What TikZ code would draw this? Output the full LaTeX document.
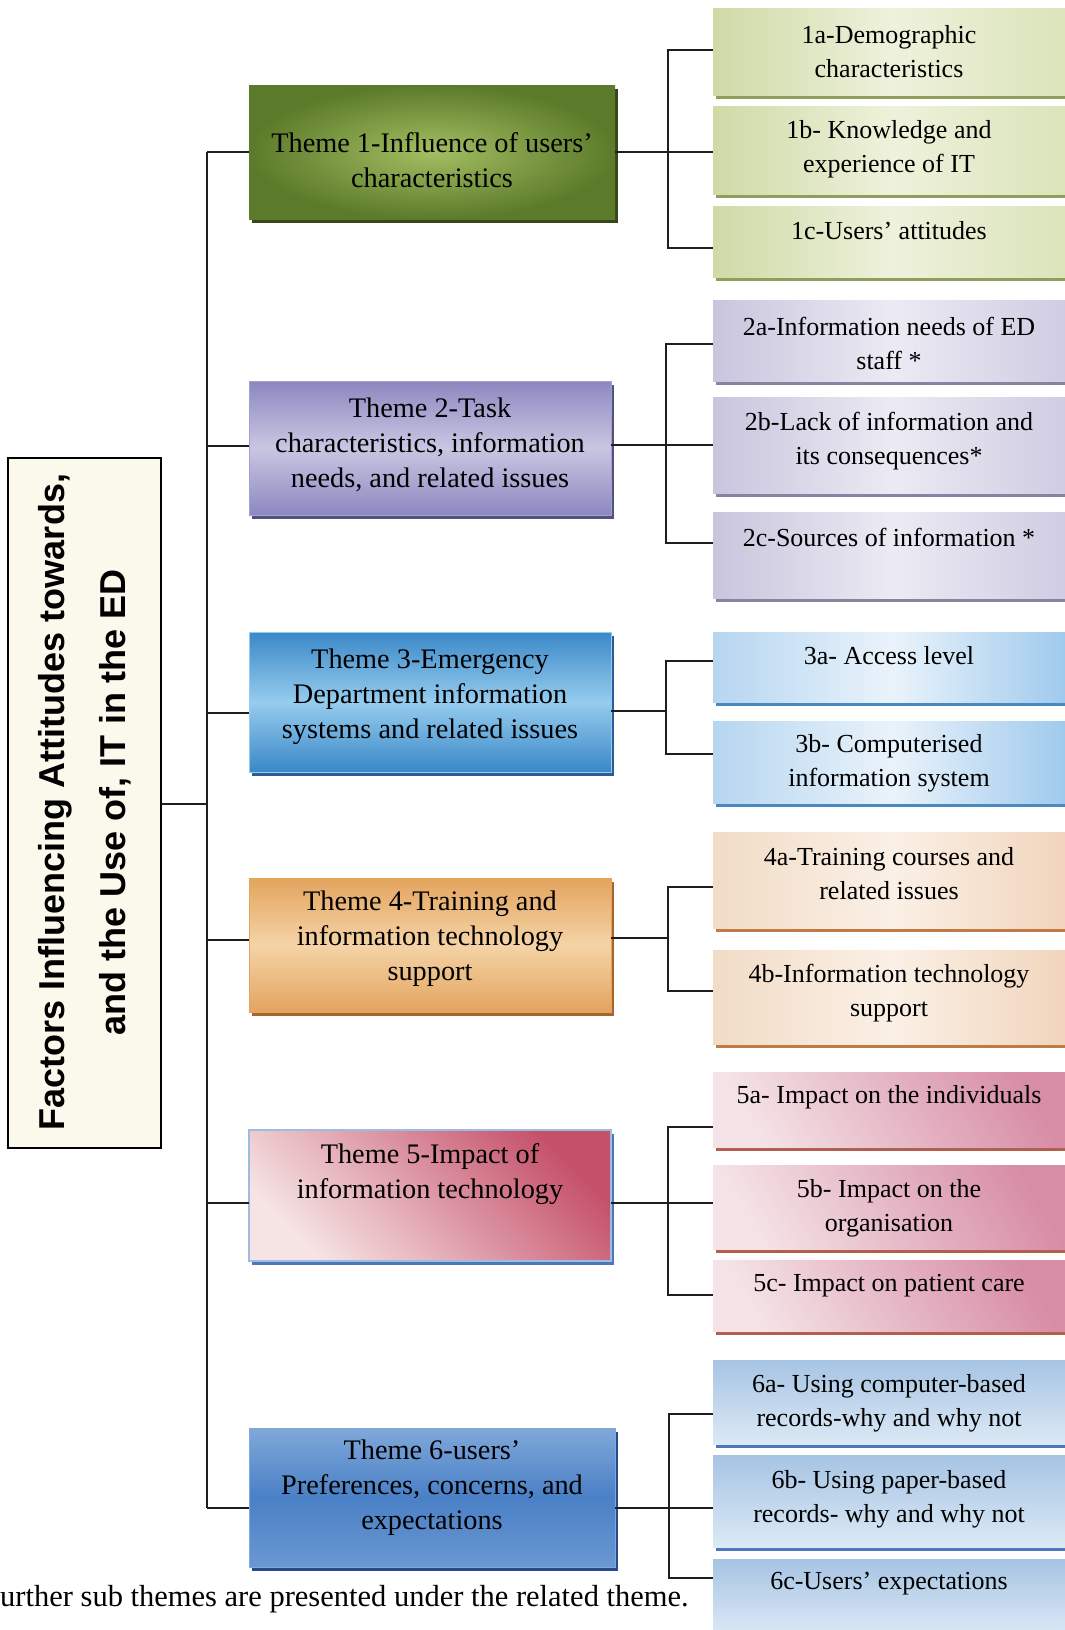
\documentclass[tikz,border=0pt]{standalone}
\usepackage{fontspec}
\setmainfont{Liberation Serif}
\newfontfamily\headsans{Liberation Sans}
\usetikzlibrary{shadows}

% theme colours
\definecolor{tOneIn}{HTML}{A3BE62}
\definecolor{tOneOut}{HTML}{5C7B2A}
\definecolor{tOneSh}{HTML}{36471A}
\definecolor{tTwoEdge}{HTML}{8C88C0}
\definecolor{tTwoMid}{HTML}{C9C6E3}
\definecolor{tTwoSh}{HTML}{55517E}
\definecolor{tThreeEdge}{HTML}{3A88C8}
\definecolor{tThreeMid}{HTML}{96CCEE}
\definecolor{tThreeSh}{HTML}{2A5C98}
\definecolor{tFourEdge}{HTML}{E3A45E}
\definecolor{tFourMid}{HTML}{F5D3A6}
\definecolor{tFourSh}{HTML}{A8652C}
\definecolor{tFiveLight}{HTML}{F6E4E4}
\definecolor{tFiveDark}{HTML}{C5506A}
\definecolor{tFiveLine}{HTML}{9CBCE0}
\definecolor{tFiveSh}{HTML}{4A78B8}
\definecolor{tSixTop}{HTML}{80A8DA}
\definecolor{tSixMid}{HTML}{4A80C6}
\definecolor{tSixBot}{HTML}{6A98D2}
\definecolor{tSixSh}{HTML}{284A88}
% sub-theme colours
\definecolor{sOneA}{HTML}{CFDAA6}
\definecolor{sOneB}{HTML}{EEF2DC}
\definecolor{sOneC}{HTML}{DAE3B8}
\definecolor{sOneSh}{HTML}{8E9E5C}
\definecolor{sTwoA}{HTML}{C9C5DE}
\definecolor{sTwoB}{HTML}{ECEAF3}
\definecolor{sTwoC}{HTML}{CFCBE2}
\definecolor{sTwoSh}{HTML}{88849F}
\definecolor{sThreeA}{HTML}{B6D6F0}
\definecolor{sThreeB}{HTML}{EAF3FB}
\definecolor{sThreeC}{HTML}{9CC8EC}
\definecolor{sThreeSh}{HTML}{4A88C0}
\definecolor{sFourA}{HTML}{F1DCC6}
\definecolor{sFourB}{HTML}{FBF0E6}
\definecolor{sFourC}{HTML}{F0D4BA}
\definecolor{sFourSh}{HTML}{C27A44}
\definecolor{sFiveA}{HTML}{F4E2E6}
\definecolor{sFiveC}{HTML}{D78DA6}
\definecolor{sFiveSh}{HTML}{B45E50}
\definecolor{sSixA}{HTML}{A6C4E4}
\definecolor{sSixB}{HTML}{DCE9F5}
\definecolor{sSixSh}{HTML}{4A78B8}
\definecolor{titleFill}{HTML}{FBF9EC}
\definecolor{inkLine}{HTML}{1E1E1E}

\tikzset{
  box/.style={rectangle, inner sep=0pt, outer sep=0pt, anchor=north west},
  themebox/.style={box, minimum width=362, minimum height=134},
  subbox/.style={box, minimum width=360},
  themetext/.style={align=center, inner sep=0pt, font=\fontsize{28.3}{35}\selectfont},
  subtext/.style={align=center, inner sep=0pt, font=\fontsize{26}{34}\selectfont},
  conn/.style={draw=inkLine, line width=1.8pt},
  shadowof/.style={drop shadow={shadow xshift=3pt, shadow yshift=-4pt, fill=#1, opacity=1}},
  % theme fills (middle colour always given last)
  thOne/.style={shadowof=tOneSh, inner color=tOneIn, outer color=tOneOut},
  thTwo/.style={shadowof=tTwoSh, top color=tTwoEdge, bottom color=tTwoEdge, middle color=tTwoMid, draw=tTwoEdge!80, line width=0.8pt},
  thThree/.style={shadowof=tThreeSh, top color=tThreeEdge, bottom color=tThreeEdge, middle color=tThreeMid, draw=tThreeMid, line width=0.8pt},
  thFour/.style={shadowof=tFourSh, top color=tFourEdge, bottom color=tFourEdge, middle color=tFourMid, draw=tFourEdge, line width=0.8pt},
  thFive/.style={shadowof=tFiveSh, left color=tFiveLight, right color=tFiveDark, shading angle=135, draw=tFiveLine, line width=1.2pt},
  thSix/.style={shadowof=tSixSh, top color=tSixTop, bottom color=tSixBot, middle color=tSixMid, draw=tSixTop, line width=0.8pt},
  % sub-theme fills
  suOne/.style={subbox, shadowof=sOneSh, left color=sOneA, right color=sOneC, middle color=sOneB},
  suTwo/.style={subbox, shadowof=sTwoSh, left color=sTwoA, right color=sTwoC, middle color=sTwoB},
  suThree/.style={subbox, shadowof=sThreeSh, left color=sThreeA, right color=sThreeC, middle color=sThreeB},
  suFour/.style={subbox, shadowof=sFourSh, left color=sFourA, right color=sFourC, middle color=sFourB},
  suFive/.style={subbox, shadowof=sFiveSh, left color=sFiveA, right color=sFiveC, shading angle=120},
  suSix/.style={subbox, shadowof=sSixSh, top color=sSixA, bottom color=sSixB},
}

\begin{document}
\begin{tikzpicture}[x=1pt, y=-1pt]
\useasboundingbox (0,0) rectangle (1065,1630);
\clip (0,0) rectangle (1065,1630);
\fill[white] (0,0) rectangle (1065,1630);

% ---------- title bar ----------
\node[box, draw=black, line width=1.8pt, fill=titleFill,
      minimum width=153, minimum height=690] (title) at (8,458) {};
\node[rotate=90, align=center, inner sep=0pt,
      font=\headsans\bfseries\fontsize{36}{61}\selectfont] (titletext) at (85,802)
  {Factors Influencing Attitudes towards,\\and the Use of, IT in the ED};

% ---------- themes ----------
\node[themebox, thOne, minimum width=366] (t1) at (249,85) {};
\node[themetext] (t1text) at (432,160) {Theme 1-Influence of users'\\characteristics};

\node[themebox, thTwo] (t2) at (249,381) {};
\node[themetext] (t2text) at (430,445) {Theme 2-Task\\characteristics, information\\needs, and related issues};

\node[themebox, thThree, minimum height=140] (t3) at (249,632) {};
\node[themetext] (t3text) at (430,697) {Theme 3-Emergency\\Department information\\systems and related issues};

\node[themebox, thFour] (t4) at (249,878) {};
\node[themetext] (t4text) at (430,939) {Theme 4-Training and\\information technology\\support};

\node[themebox, thFive, minimum height=131] (t5) at (249,1130) {};
\node[themetext] (t5text) at (430,1174) {Theme 5-Impact of\\information technology};

\node[themebox, thSix, minimum width=366, minimum height=139] (t6) at (249,1428) {};
\node[themetext] (t6text) at (432,1488) {Theme 6-users'\\Preferences, concerns, and\\expectations};

% ---------- sub-themes ----------
\node[suOne, minimum height=87] (s1a) at (713,8) {};
\node[subtext] (s1atext) at (889,51.5) {1a-Demographic\\characteristics};
\node[suOne, minimum height=88] (s1b) at (713,106) {};
\node[subtext] (s1btext) at (889,149) {1b- Knowledge and\\experience of IT};
\node[suOne, minimum height=71] (s1c) at (713,206) {};
\node[subtext] (s1ctext) at (889,231) {1c-Users' attitudes};

\node[suTwo, minimum height=81] (s2a) at (713,300) {};
\node[subtext] (s2atext) at (889,343) {2a-Information needs of ED\\staff *};
\node[suTwo, minimum height=96] (s2b) at (713,397) {};
\node[subtext] (s2btext) at (889,441.5) {2b-Lack of information and\\its consequences*};
\node[suTwo, minimum height=86] (s2c) at (713,512) {};
\node[subtext] (s2ctext) at (889,537) {2c-Sources of information *};

\node[suThree, minimum height=70] (s3a) at (713,632) {};
\node[subtext] (s3atext) at (889,656) {3a- Access level};
\node[suThree, minimum height=82] (s3b) at (713,721) {};
\node[subtext] (s3btext) at (889,763) {3b- Computerised\\information system};

\node[suFour, minimum height=96] (s4a) at (713,832) {};
\node[subtext] (s4atext) at (889,874) {4a-Training courses and\\related issues};
\node[suFour, minimum height=94] (s4b) at (713,950) {};
\node[subtext] (s4btext) at (889,993) {4b-Information technology\\support};

\node[suFive, minimum height=75] (s5a) at (713,1072) {};
\node[subtext] (s5atext) at (889,1097) {5a- Impact on the individuals};
\node[suFive, minimum height=84] (s5b) at (713,1165) {};
\node[subtext] (s5btext) at (889,1208) {5b- Impact on the\\organisation};
\node[suFive, minimum height=71] (s5c) at (713,1260) {};
\node[subtext] (s5ctext) at (889,1285.5) {5c- Impact on patient care};

\node[suSix, minimum height=84] (s6a) at (713,1360) {};
\node[subtext] (s6atext) at (889,1403) {6a- Using computer-based\\records-why and why not};
\node[suSix, minimum height=92] (s6b) at (713,1455) {};
\node[subtext] (s6btext) at (889,1499) {6b- Using paper-based\\records- why and why not};
\node[suSix, minimum height=76] (s6c) at (713,1559) {};
\node[subtext] (s6ctext) at (889,1584) {6c-Users' expectations};

% ---------- trunk and joints ----------
\coordinate (jT) at (207,804);
\coordinate (j1) at (207,152);
\coordinate (j2) at (207,446);
\coordinate (j3) at (207,713);
\coordinate (j4) at (207,940);
\coordinate (j5) at (207,1203);
\coordinate (j6) at (207,1508);

\draw[conn] (j1) -- (j6);
\draw[conn] (title.east |- jT) -- (jT);
\foreach \k in {1,...,6} {
  \draw[conn] (j\k) -- (t\k.west |- j\k);
}

% ---------- brackets ----------
\coordinate (b1) at (668,152);  \coordinate (b1u) at (668,50);   \coordinate (b1d) at (668,248);
\coordinate (b2) at (666,445);  \coordinate (b2u) at (666,344);  \coordinate (b2d) at (666,543);
\coordinate (b3) at (666,711);  \coordinate (b3u) at (666,661);  \coordinate (b3d) at (666,754);
\coordinate (b4) at (668,938);  \coordinate (b4u) at (668,887);  \coordinate (b4d) at (668,991);
\coordinate (b5) at (668,1203); \coordinate (b5u) at (668,1127); \coordinate (b5d) at (668,1295);
\coordinate (b6) at (669,1508); \coordinate (b6u) at (669,1414); \coordinate (b6d) at (669,1578);

% three-way brackets: the theme line runs through to the middle box
\draw[conn] (t1.east |- b1) -- (s1b.west |- b1);
\draw[conn] (s1a.west |- b1u) -- (b1u) -- (b1d) -- (s1c.west |- b1d);
\draw[conn] (t2.east |- b2) -- (s2b.west |- b2);
\draw[conn] (s2a.west |- b2u) -- (b2u) -- (b2d) -- (s2c.west |- b2d);
\draw[conn] (t5.east |- b5) -- (s5b.west |- b5);
\draw[conn] (s5a.west |- b5u) -- (b5u) -- (b5d) -- (s5c.west |- b5d);
\draw[conn] (t6.east |- b6) -- (s6b.west |- b6);
\draw[conn] (s6a.west |- b6u) -- (b6u) -- (b6d) -- (s6c.west |- b6d);
% two-way brackets
\draw[conn] (t3.east |- b3) -- (b3);
\draw[conn] (s3a.west |- b3u) -- (b3u) -- (b3d) -- (s3b.west |- b3d);
\draw[conn] (t4.east |- b4) -- (b4);
\draw[conn] (s4a.west |- b4u) -- (b4u) -- (b4d) -- (s4b.west |- b4d);

% ---------- footnote ----------
\node[anchor=base west, inner sep=0pt, font=\fontsize{30.5}{36}\selectfont] (note) at (0,1606)
  {urther sub themes are presented under the related theme.};
\end{tikzpicture}
\end{document}
